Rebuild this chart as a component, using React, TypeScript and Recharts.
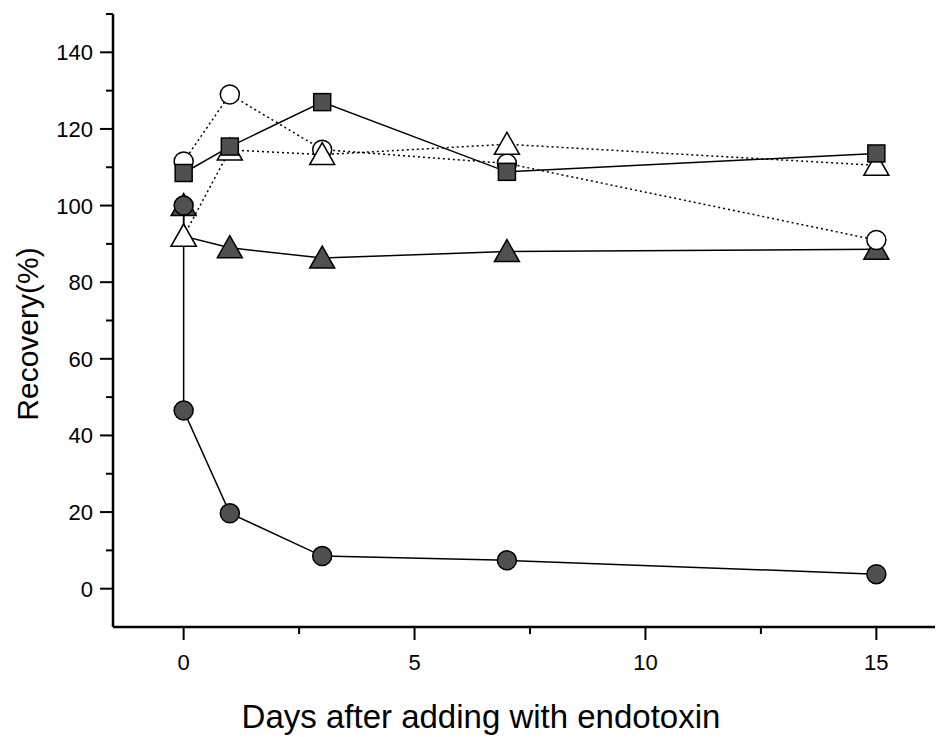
import React from 'react';
import { LineChart, Line, XAxis, YAxis, Label } from 'recharts';

// ---- data ----
const days = [0, 1, 3, 7, 15];
const filledCircleDays = [0, 0, 1, 3, 7, 15];
const filledCircleValues = [100, 46.5, 19.7, 8.5, 7.4, 3.8];
const filledTriangleDays = [0, 0, 1, 3, 7, 15];
const filledTriangleValues = [100, 92, 89, 86.3, 88, 88.6];
const openCircleValues = [111.5, 129, 114.6, 111, 91];
const openTriangleValues = [92, 114.5, 113.3, 116, 110.5];
const filledSquareValues = [108.5, 115.4, 127, 108.8, 113.6];

const xTicks = [0, 2.5, 5, 7.5, 10, 12.5, 15];
const xTickLabels = ['0', '', '5', '', '10', '', '15'];
const yTicks = [0, 10, 20, 30, 40, 50, 60, 70, 80, 90, 100, 110, 120, 130, 140, 150];
const yLabelEvery = 20;

const toRows = (xs: number[], ys: number[]) => xs.map((x, i) => ({ x, y: ys[i] }));

const filledCircleData = toRows(filledCircleDays, filledCircleValues);
const filledTriangleData = toRows(filledTriangleDays, filledTriangleValues);
const openCircleData = toRows(days, openCircleValues);
const openTriangleData = toRows(days, openTriangleValues);
const filledSquareData = toRows(days, filledSquareValues);

const FILL = '#505050';
const SANS = "'Liberation Sans', Arial, Helvetica, sans-serif";

const circleDot = (fill: string) => (p: any) => (
  <circle key={`c${p.index}`} cx={p.cx} cy={p.cy} r={9.5} fill={fill} stroke="#000" strokeWidth={1.5} />
);
const triangleDot = (fill: string) => (p: any) => (
  <polygon
    key={`t${p.index}`}
    points={`${p.cx},${p.cy - 12} ${p.cx - 12.5},${p.cy + 10} ${p.cx + 12.5},${p.cy + 10}`}
    fill={fill}
    stroke="#000"
    strokeWidth={1.5}
    strokeLinejoin="miter"
  />
);
const squareDot = (p: any) => (
  <rect key={`s${p.index}`} x={p.cx - 8.5} y={p.cy - 8.5} width={17} height={17} fill={FILL} stroke="#000" strokeWidth={1.5} />
);

const XTick = (props: any) => {
  const { x, y, payload } = props;
  const idx = xTicks.indexOf(payload.value);
  const label = idx >= 0 ? xTickLabels[idx] : '';
  const major = label !== '';
  return (
    <g>
      <line x1={x} x2={x} y1={y} y2={y + (major ? 13 : 7)} stroke="#000" strokeWidth={2} />
      {major && (
        <text x={x} y={y + 43} textAnchor="middle" fontSize={22} fontFamily={SANS} fill="#000">
          {label}
        </text>
      )}
    </g>
  );
};

const YTick = (props: any) => {
  const { x, y, payload } = props;
  const v = payload.value;
  const major = v % yLabelEvery === 0 && v <= 140;
  return (
    <g>
      <line x1={x - (major ? 13 : 7)} x2={x} y1={y} y2={y} stroke="#000" strokeWidth={2} />
      {major && (
        <text x={x - 20} y={y + 8} textAnchor="end" fontSize={22} fontFamily={SANS} fill="#000">
          {v}
        </text>
      )}
    </g>
  );
};

export default function App() {
  return (
    <div style={{ position: 'absolute', left: 0, top: 0, background: '#fff' }}>
      <LineChart width={938} height={737} margin={{ top: 14, right: 3, left: 0, bottom: 0 }}>
        <XAxis
          type="number"
          dataKey="x"
          domain={[-1.53, 16.27]}
          ticks={xTicks}
          allowDataOverflow
          height={110}
          tickSize={0}
          tickMargin={0}
          tickLine={false}
          axisLine={{ stroke: '#000', strokeWidth: 2.5 }}
          tick={<XTick />}
          interval={0}
        >
          <Label
            content={() => (
              <text x={481} y={728} textAnchor="middle" fontSize={33} fontFamily={SANS} fill="#000">
                Days after adding with endotoxin
              </text>
            )}
          />
        </XAxis>
        <YAxis
          type="number"
          dataKey="y"
          domain={[-10, 150]}
          ticks={yTicks}
          allowDataOverflow
          width={113}
          tickSize={0}
          tickMargin={0}
          tickLine={false}
          axisLine={{ stroke: '#000', strokeWidth: 2.5 }}
          tick={<YTick />}
          interval={0}
        >
          <Label
            content={() => (
              <text
                x={38}
                y={334}
                textAnchor="middle"
                fontSize={30}
                fontFamily={SANS}
                fill="#000"
                transform="rotate(-90 38 334)"
              >
                Recovery(%)
              </text>
            )}
          />
        </YAxis>
        <Line
          data={filledTriangleData}
          dataKey="y"
          type="linear"
          stroke="#000"
          strokeWidth={1.5}
          dot={triangleDot(FILL)}
          isAnimationActive={false}
        />
        <Line
          data={filledCircleData}
          dataKey="y"
          type="linear"
          stroke="#000"
          strokeWidth={1.5}
          dot={circleDot(FILL)}
          isAnimationActive={false}
        />
        <Line
          data={openCircleData}
          dataKey="y"
          type="linear"
          stroke="#000"
          strokeWidth={1.5}
          strokeDasharray="2 3"
          dot={circleDot('#fff')}
          isAnimationActive={false}
        />
        <Line
          data={openTriangleData}
          dataKey="y"
          type="linear"
          stroke="#000"
          strokeWidth={1.5}
          strokeDasharray="2 3"
          dot={triangleDot('#fff')}
          isAnimationActive={false}
        />
        <Line
          data={filledSquareData}
          dataKey="y"
          type="linear"
          stroke="#000"
          strokeWidth={1.5}
          dot={squareDot}
          isAnimationActive={false}
        />
      </LineChart>
    </div>
  );
}
